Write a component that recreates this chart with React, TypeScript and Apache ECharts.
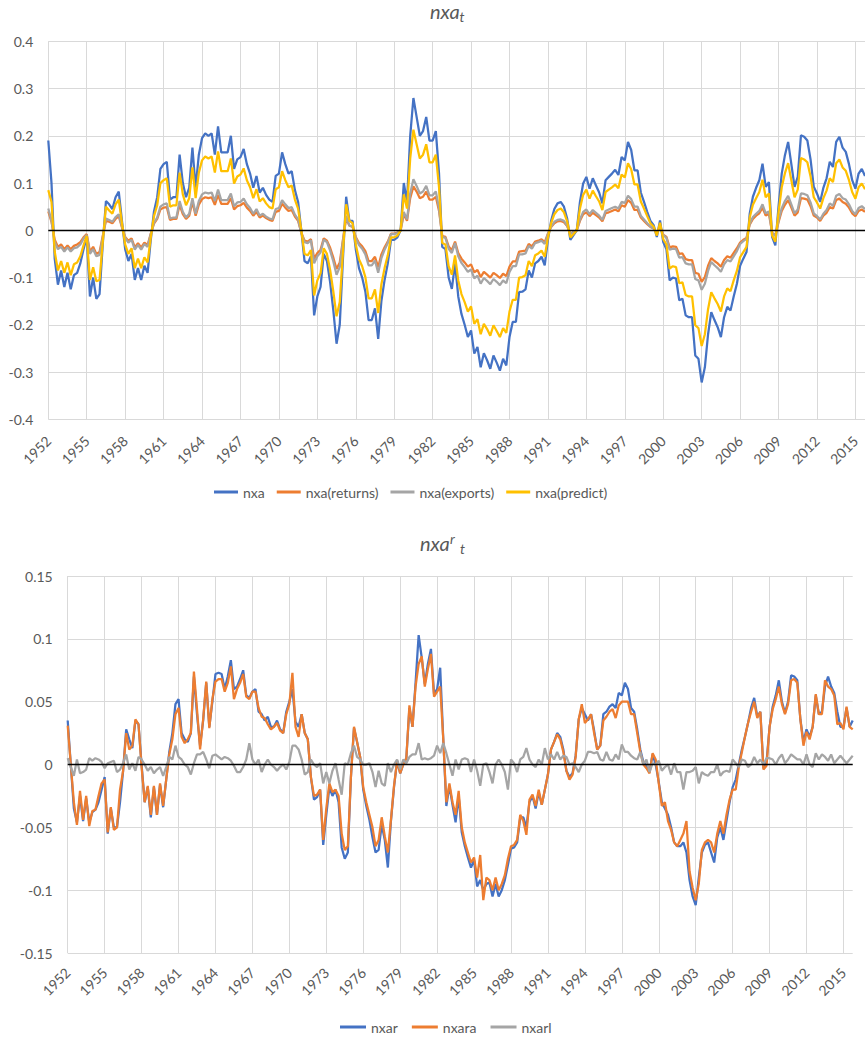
import React, { useEffect, useRef } from "react";
import * as echarts from "echarts";

// quarterly categories 1952Q1 .. 2015Q4
const quarters: string[] = [];
for (let y = 1952; y <= 2015; y++) for (let q = 1; q <= 4; q++) quarters.push(`${y}Q${q}`);

const topSeriesNames = ["nxa", "nxa(returns)", "nxa(exports)", "nxa(predict)"];
const bottomSeriesNames = ["nxar", "nxara", "nxarl"];

const nxa = [
  0.19, 0.10, -0.06, -0.115, -0.085, -0.12, -0.09, -0.125, -0.095, -0.09, -0.07, -0.04, -0.015, -0.14, -0.10, -0.145,
  -0.135, -0.03, 0.062, 0.055, 0.045, 0.07, 0.082, 0.02, -0.04, -0.065, -0.05, -0.105, -0.08, -0.105, -0.075, -0.09,
  -0.02, 0.04, 0.07, 0.13, 0.14, 0.145, 0.065, 0.07, 0.07, 0.16, 0.1, 0.07, 0.09, 0.175, 0.09, 0.16,
  0.195, 0.205, 0.2, 0.205, 0.16, 0.22, 0.165, 0.165, 0.165, 0.2, 0.13, 0.15, 0.155, 0.172, 0.14, 0.12,
  0.09, 0.115, 0.08, 0.09, 0.075, 0.065, 0.06, 0.115, 0.12, 0.165, 0.14, 0.12, 0.125, 0.085, 0.06, 0.0,
  -0.065, -0.07, -0.055, -0.18, -0.14, -0.12, -0.05, -0.065, -0.11, -0.17, -0.24, -0.2, -0.06, 0.071, 0.02, 0.02,
  -0.04, -0.08, -0.1, -0.13, -0.19, -0.19, -0.165, -0.23, -0.15, -0.105, -0.07, -0.02, -0.02, -0.015, 0.0, 0.1,
  0.06, 0.2, 0.28, 0.24, 0.2, 0.21, 0.24, 0.19, 0.19, 0.21, 0.12, -0.035, -0.04, -0.1, -0.124, -0.07,
  -0.14, -0.177, -0.2, -0.226, -0.212, -0.261, -0.247, -0.29, -0.26, -0.275, -0.293, -0.265, -0.28, -0.297, -0.272, -0.286,
  -0.226, -0.194, -0.194, -0.131, -0.13, -0.125, -0.085, -0.1, -0.07, -0.065, -0.056, -0.074, -0.02, 0.02, 0.045, 0.057,
  0.06, 0.05, 0.025, -0.02, -0.01, 0.0, 0.06, 0.099, 0.113, 0.088, 0.11, 0.095, 0.08, 0.057, 0.106, 0.113,
  0.12, 0.128, 0.117, 0.155, 0.148, 0.187, 0.17, 0.127, 0.127, 0.08, 0.06, 0.039, 0.02, 0.011, -0.014, 0.021,
  -0.025, -0.04, -0.106, -0.1, -0.102, -0.148, -0.145, -0.18, -0.184, -0.184, -0.265, -0.272, -0.322, -0.29, -0.22, -0.173,
  -0.19, -0.205, -0.226, -0.184, -0.162, -0.17, -0.14, -0.113, -0.075, -0.06, -0.046, 0.035, 0.071, 0.09, 0.106, 0.141,
  0.092, 0.102, -0.014, -0.032, 0.05, 0.12, 0.159, 0.187, 0.14, 0.092, 0.113, 0.201, 0.198, 0.19, 0.15, 0.092,
  0.078, 0.06, 0.09, 0.11, 0.145, 0.134, 0.187, 0.198, 0.175, 0.166, 0.14, 0.106, 0.088, 0.12, 0.13, 0.115,
];

const nxaReturns = [
  0.04, 0.018, -0.02, -0.035, -0.03, -0.04, -0.032, -0.04, -0.033, -0.03, -0.025, -0.015, -0.008, -0.045, -0.035, -0.05,
  -0.046, -0.012, 0.02, 0.018, 0.015, 0.024, 0.03, 0.006, -0.014, -0.022, -0.017, -0.036, -0.027, -0.036, -0.026, -0.031,
  -0.007, 0.014, 0.024, 0.044, 0.048, 0.049, 0.022, 0.024, 0.024, 0.054, 0.034, 0.024, 0.031, 0.06, 0.031, 0.054,
  0.066, 0.07, 0.068, 0.07, 0.054, 0.075, 0.056, 0.056, 0.056, 0.068, 0.044, 0.051, 0.053, 0.058, 0.048, 0.041,
  0.031, 0.039, 0.027, 0.031, 0.026, 0.022, 0.02, 0.039, 0.041, 0.056, 0.048, 0.041, 0.043, 0.029, 0.02, -0.005,
  -0.022, -0.024, -0.019, -0.06, -0.048, -0.041, -0.017, -0.022, -0.037, -0.058, -0.082, -0.068, -0.02, 0.026, 0.01, 0.007,
  -0.014, -0.027, -0.034, -0.044, -0.065, -0.065, -0.056, -0.078, -0.051, -0.036, -0.024, -0.007, -0.007, -0.005, 0.0, 0.034,
  0.02, 0.068, 0.093, 0.082, 0.068, 0.071, 0.082, 0.065, 0.065, 0.071, 0.041, -0.012, -0.014, -0.034, -0.042, -0.024,
  -0.048, -0.06, -0.068, -0.077, -0.072, -0.089, -0.084, -0.099, -0.088, -0.094, -0.1, -0.09, -0.095, -0.101, -0.092, -0.097,
  -0.077, -0.066, -0.066, -0.045, -0.044, -0.043, -0.029, -0.034, -0.024, -0.022, -0.019, -0.025, -0.007, 0.007, 0.015, 0.019,
  0.02, 0.017, 0.009, -0.007, -0.003, 0.0, 0.02, 0.034, 0.038, 0.03, 0.037, 0.032, 0.027, 0.019, 0.036, 0.038,
  0.041, 0.044, 0.04, 0.053, 0.05, 0.064, 0.058, 0.043, 0.043, 0.027, 0.02, 0.013, 0.007, 0.004, -0.005, 0.007,
  -0.009, -0.014, -0.036, -0.034, -0.035, -0.05, -0.049, -0.061, -0.063, -0.063, -0.09, -0.092, -0.109, -0.099, -0.075, -0.059,
  -0.065, -0.07, -0.077, -0.063, -0.055, -0.058, -0.048, -0.038, -0.026, -0.02, -0.016, 0.012, 0.024, 0.031, 0.036, 0.048,
  0.031, 0.035, -0.005, -0.011, 0.017, 0.041, 0.054, 0.064, 0.048, 0.031, 0.038, 0.068, 0.067, 0.065, 0.051, 0.031,
  0.027, 0.02, 0.031, 0.037, 0.049, 0.046, 0.064, 0.067, 0.06, 0.056, 0.048, 0.036, 0.03, 0.041, 0.044, 0.039,
];

const nxaExports = [
  0.046, 0.02, -0.025, -0.04, -0.035, -0.045, -0.036, -0.045, -0.038, -0.036, -0.03, -0.018, -0.01, -0.05, -0.04, -0.055,
  -0.052, -0.015, 0.025, 0.022, 0.018, 0.028, 0.034, 0.008, -0.016, -0.026, -0.02, -0.041, -0.031, -0.041, -0.029, -0.035,
  -0.008, 0.016, 0.027, 0.05, 0.055, 0.057, 0.025, 0.027, 0.027, 0.062, 0.039, 0.027, 0.035, 0.068, 0.035, 0.062,
  0.076, 0.08, 0.078, 0.08, 0.062, 0.086, 0.064, 0.064, 0.064, 0.078, 0.051, 0.059, 0.06, 0.067, 0.055, 0.047,
  0.035, 0.045, 0.031, 0.035, 0.029, 0.025, 0.023, 0.045, 0.047, 0.064, 0.055, 0.047, 0.049, 0.033, 0.023, -0.005,
  -0.025, -0.027, -0.021, -0.07, -0.055, -0.047, -0.02, -0.025, -0.043, -0.066, -0.094, -0.078, -0.023, 0.03, 0.01, 0.008,
  -0.016, -0.031, -0.039, -0.051, -0.074, -0.074, -0.064, -0.09, -0.059, -0.041, -0.027, -0.008, -0.008, -0.006, 0.0, 0.039,
  0.023, 0.078, 0.108, 0.094, 0.078, 0.082, 0.094, 0.074, 0.074, 0.082, 0.047, -0.014, -0.016, -0.039, -0.048, -0.027,
  -0.055, -0.069, -0.078, -0.088, -0.083, -0.102, -0.096, -0.113, -0.101, -0.107, -0.114, -0.103, -0.109, -0.116, -0.106, -0.112,
  -0.088, -0.076, -0.076, -0.051, -0.051, -0.049, -0.033, -0.039, -0.027, -0.025, -0.022, -0.029, -0.008, 0.008, 0.018, 0.022,
  0.023, 0.02, 0.01, -0.008, -0.004, 0.0, 0.023, 0.039, 0.044, 0.034, 0.043, 0.037, 0.031, 0.022, 0.041, 0.044,
  0.047, 0.05, 0.046, 0.06, 0.058, 0.073, 0.066, 0.05, 0.05, 0.031, 0.023, 0.015, 0.008, 0.004, -0.005, 0.008,
  -0.01, -0.016, -0.041, -0.039, -0.04, -0.058, -0.057, -0.07, -0.072, -0.072, -0.103, -0.106, -0.126, -0.113, -0.086, -0.067,
  -0.074, -0.08, -0.088, -0.072, -0.063, -0.066, -0.055, -0.044, -0.029, -0.023, -0.018, 0.014, 0.028, 0.035, 0.041, 0.055,
  0.036, 0.04, -0.005, -0.012, 0.02, 0.047, 0.062, 0.073, 0.055, 0.036, 0.044, 0.078, 0.077, 0.074, 0.059, 0.036,
  0.03, 0.023, 0.035, 0.043, 0.057, 0.052, 0.073, 0.077, 0.068, 0.065, 0.055, 0.041, 0.034, 0.047, 0.051, 0.045,
];

const nxaPredict = [
  0.085, 0.06, -0.045, -0.085, -0.065, -0.09, -0.068, -0.095, -0.072, -0.068, -0.055, -0.032, -0.012, -0.105, -0.078, -0.108,
  -0.105, -0.025, 0.05, 0.042, 0.035, 0.055, 0.065, 0.015, -0.03, -0.05, -0.038, -0.08, -0.06, -0.08, -0.057, -0.068,
  -0.015, 0.03, 0.053, 0.1, 0.106, 0.11, 0.05, 0.053, 0.053, 0.122, 0.076, 0.053, 0.068, 0.133, 0.068, 0.122,
  0.148, 0.156, 0.152, 0.156, 0.122, 0.167, 0.125, 0.125, 0.125, 0.152, 0.099, 0.114, 0.118, 0.131, 0.106, 0.091,
  0.068, 0.087, 0.061, 0.068, 0.057, 0.049, 0.046, 0.087, 0.091, 0.125, 0.106, 0.091, 0.095, 0.065, 0.046, 0.0,
  -0.05, -0.053, -0.042, -0.138, -0.106, -0.091, -0.038, -0.05, -0.084, -0.13, -0.182, -0.152, -0.046, 0.055, 0.02, 0.015,
  -0.03, -0.061, -0.076, -0.099, -0.144, -0.144, -0.125, -0.175, -0.114, -0.08, -0.053, -0.015, -0.015, -0.011, 0.0, 0.076,
  0.046, 0.152, 0.213, 0.182, 0.152, 0.16, 0.182, 0.144, 0.144, 0.16, 0.091, -0.027, -0.03, -0.076, -0.094, -0.053,
  -0.106, -0.135, -0.152, -0.172, -0.161, -0.198, -0.188, -0.22, -0.198, -0.209, -0.223, -0.201, -0.213, -0.226, -0.207, -0.217,
  -0.172, -0.147, -0.147, -0.1, -0.099, -0.095, -0.065, -0.076, -0.053, -0.049, -0.043, -0.056, -0.015, 0.015, 0.034, 0.043,
  0.046, 0.038, 0.019, -0.015, -0.008, 0.0, 0.046, 0.075, 0.086, 0.067, 0.084, 0.072, 0.061, 0.043, 0.081, 0.086,
  0.091, 0.097, 0.089, 0.118, 0.112, 0.142, 0.129, 0.097, 0.097, 0.061, 0.046, 0.03, 0.015, 0.008, -0.011, 0.016,
  -0.019, -0.03, -0.081, -0.076, -0.078, -0.112, -0.11, -0.137, -0.14, -0.14, -0.201, -0.207, -0.245, -0.22, -0.167, -0.131,
  -0.144, -0.156, -0.172, -0.14, -0.123, -0.129, -0.106, -0.086, -0.057, -0.046, -0.035, 0.027, 0.054, 0.068, 0.081, 0.107,
  0.07, 0.078, -0.011, -0.024, 0.038, 0.091, 0.121, 0.142, 0.106, 0.07, 0.086, 0.153, 0.15, 0.144, 0.114, 0.07,
  0.059, 0.046, 0.068, 0.084, 0.11, 0.102, 0.142, 0.15, 0.133, 0.126, 0.106, 0.081, 0.067, 0.091, 0.099, 0.087,
];

const nxar = [
  0.035, 0.0, -0.035, -0.046, -0.025, -0.045, -0.027, -0.046, -0.038, -0.036, -0.03, -0.02, -0.01, -0.055, -0.035, -0.05,
  -0.05, -0.03, -0.005, 0.028, 0.02, 0.013, 0.035, 0.032, 0.0, -0.03, -0.018, -0.042, -0.018, -0.04, -0.016, -0.034,
  -0.012, 0.01, 0.025, 0.048, 0.052, 0.025, 0.02, 0.018, 0.025, 0.07, 0.04, 0.015, 0.035, 0.065, 0.03, 0.05,
  0.072, 0.073, 0.072, 0.06, 0.07, 0.083, 0.06, 0.062, 0.068, 0.075, 0.055, 0.053, 0.058, 0.06, 0.042, 0.04,
  0.035, 0.038, 0.03, 0.03, 0.035, 0.028, 0.025, 0.042, 0.05, 0.06, 0.034, 0.03, 0.04, 0.025, 0.02, -0.01,
  -0.028, -0.026, -0.02, -0.064, -0.04, -0.018, -0.025, -0.02, -0.03, -0.066, -0.075, -0.07, -0.01, 0.029, 0.018, 0.006,
  -0.02, -0.033, -0.044, -0.058, -0.07, -0.068, -0.048, -0.06, -0.082, -0.045, -0.018, 0.003, -0.007, 0.0, 0.005, 0.045,
  0.03, 0.065, 0.103, 0.085, 0.064, 0.08, 0.092, 0.056, 0.06, 0.077, 0.02, -0.033, -0.017, -0.032, -0.046, -0.025,
  -0.054, -0.065, -0.074, -0.082, -0.076, -0.097, -0.092, -0.1, -0.095, -0.094, -0.105, -0.095, -0.105, -0.1, -0.092, -0.08,
  -0.067, -0.066, -0.062, -0.042, -0.042, -0.05, -0.03, -0.025, -0.035, -0.022, -0.032, -0.02, -0.008, 0.012, 0.018, 0.025,
  0.022, 0.012, -0.005, -0.01, -0.007, 0.007, 0.036, 0.045, 0.04, 0.035, 0.04, 0.027, 0.012, 0.015, 0.04, 0.042,
  0.046, 0.048, 0.045, 0.057, 0.055, 0.065, 0.06, 0.045, 0.042, 0.028, 0.012, 0.002, -0.001, -0.006, 0.008, 0.0,
  -0.014, -0.03, -0.035, -0.04, -0.05, -0.062, -0.065, -0.065, -0.062, -0.07, -0.092, -0.105, -0.112, -0.09, -0.07, -0.064,
  -0.062, -0.07, -0.078, -0.058, -0.05, -0.06, -0.045, -0.03, -0.018, -0.012, 0.0, 0.012, 0.022, 0.033, 0.045, 0.053,
  0.038, 0.042, -0.003, 0.002, 0.03, 0.046, 0.055, 0.067, 0.05, 0.041, 0.05, 0.071, 0.07, 0.067, 0.036, 0.018,
  0.028, 0.022, 0.03, 0.055, 0.04, 0.042, 0.062, 0.07, 0.062, 0.057, 0.042, 0.03, 0.03, 0.045, 0.03, 0.035,
];

const nxara = [
  0.031, 0.0, -0.03, -0.048, -0.021, -0.044, -0.025, -0.049, -0.037, -0.036, -0.025, -0.015, -0.012, -0.054, -0.034, -0.052,
  -0.05, -0.02, -0.005, 0.025, 0.012, 0.015, 0.036, 0.032, -0.002, -0.03, -0.017, -0.04, -0.017, -0.04, -0.015, -0.033,
  -0.012, 0.008, 0.02, 0.04, 0.045, 0.022, 0.017, 0.02, 0.025, 0.074, 0.044, 0.012, 0.036, 0.066, 0.029, 0.052,
  0.066, 0.068, 0.068, 0.058, 0.065, 0.078, 0.052, 0.06, 0.065, 0.072, 0.054, 0.052, 0.058, 0.058, 0.045, 0.038,
  0.037, 0.032, 0.028, 0.03, 0.033, 0.027, 0.025, 0.04, 0.048, 0.073, 0.03, 0.022, 0.04, 0.025, 0.02, -0.01,
  -0.025, -0.024, -0.02, -0.06, -0.035, -0.015, -0.022, -0.02, -0.025, -0.055, -0.068, -0.065, -0.01, 0.03, 0.018, 0.006,
  -0.018, -0.03, -0.04, -0.05, -0.065, -0.06, -0.042, -0.057, -0.07, -0.044, -0.017, 0.003, -0.007, 0.0, 0.005, 0.047,
  0.03, 0.062, 0.08, 0.086, 0.062, 0.076, 0.088, 0.054, 0.058, 0.062, 0.02, -0.03, -0.015, -0.03, -0.04, -0.021,
  -0.05, -0.062, -0.07, -0.078, -0.074, -0.09, -0.072, -0.108, -0.09, -0.092, -0.1, -0.09, -0.1, -0.095, -0.088, -0.075,
  -0.065, -0.064, -0.06, -0.04, -0.045, -0.056, -0.028, -0.024, -0.033, -0.02, -0.032, -0.02, -0.008, 0.012, 0.018, 0.024,
  0.02, 0.01, -0.005, -0.012, -0.008, 0.006, 0.036, 0.048, 0.033, 0.036, 0.04, 0.025, 0.012, 0.015, 0.035, 0.038,
  0.042, 0.044, 0.037, 0.047, 0.05, 0.05, 0.05, 0.04, 0.04, 0.025, 0.01, 0.0, -0.003, -0.007, 0.009, 0.004,
  -0.015, -0.033, -0.03, -0.045, -0.052, -0.062, -0.065, -0.06, -0.055, -0.045, -0.085, -0.098, -0.108, -0.095, -0.068, -0.062,
  -0.06, -0.062, -0.07, -0.055, -0.045, -0.055, -0.04, -0.028, -0.02, -0.02, -0.002, 0.01, 0.022, 0.033, 0.042, 0.05,
  0.037, 0.042, -0.004, -0.001, 0.03, 0.044, 0.052, 0.062, 0.048, 0.04, 0.048, 0.067, 0.068, 0.065, 0.036, 0.015,
  0.026, 0.02, 0.03, 0.056, 0.04, 0.04, 0.067, 0.062, 0.06, 0.055, 0.032, 0.033, 0.028, 0.046, 0.03, 0.028,
];

const nxarl = [
  0.005, -0.002, -0.009, 0.004, -0.007, -0.006, -0.004, 0.005, 0.003, 0.005, 0.004, 0.002, -0.003, 0.001, 0.002, 0.003,
  -0.006, -0.004, 0.001, 0.008, -0.004, 0.001, -0.005, 0.006, 0.004, 0.0, -0.005, -0.002, -0.007, -0.004, -0.002, -0.009,
  -0.002, 0.006, 0.004, 0.015, 0.006, 0.004, 0.0, -0.002, -0.008, 0.001, 0.008, 0.008, 0.01, 0.004, -0.003, 0.007,
  0.008, 0.006, 0.004, 0.006, 0.005, 0.003, -0.001, -0.006, -0.006, -0.002, 0.004, 0.017, 0.004, 0.0, 0.004, -0.006,
  0.0, 0.004, 0.0, -0.002, -0.005, -0.002, 0.0, -0.004, 0.002, 0.015, 0.015, 0.012, 0.004, -0.008, -0.006, 0.004,
  0.0, -0.002, 0.001, -0.015, -0.006, -0.015, -0.005, 0.001, -0.012, -0.024, 0.001, 0.0, 0.009, 0.015, 0.006, 0.004,
  0.0, 0.0, 0.001, -0.006, -0.018, -0.005, -0.015, -0.017, 0.001, -0.006, 0.0, 0.004, -0.004, 0.004, 0.001, 0.006,
  0.008, 0.008, 0.017, 0.004, 0.005, 0.004, 0.005, 0.007, 0.015, 0.009, 0.017, 0.009, 0.0, -0.009, 0.004, -0.004,
  0.004, 0.005, 0.004, -0.006, 0.004, -0.005, -0.017, 0.0, 0.001, -0.006, -0.015, 0.0, 0.004, 0.0, -0.006, -0.02,
  0.004, 0.001, -0.006, 0.004, 0.006, 0.013, 0.004, 0.0, -0.002, 0.004, 0.0, 0.013, 0.004, 0.008, 0.004, 0.01,
  0.004, 0.007, 0.006, 0.0, 0.001, -0.002, -0.006, 0.0, 0.003, 0.01, 0.01, 0.009, 0.01, 0.004, 0.003, 0.01,
  0.004, 0.003, 0.008, 0.004, 0.016, 0.01, 0.01, 0.007, 0.005, 0.004, 0.01, 0.0, 0.004, -0.006, 0.001, 0.0,
  0.003, -0.005, -0.002, 0.0, -0.008, 0.001, -0.006, -0.006, -0.02, -0.006, -0.006, -0.005, -0.002, -0.015, -0.006, -0.008,
  -0.009, -0.006, -0.006, 0.0, -0.009, -0.006, -0.005, -0.006, 0.004, 0.001, -0.002, 0.004, 0.003, -0.002, 0.0, 0.006,
  0.001, 0.004, 0.0, 0.005, 0.005, 0.004, 0.0, 0.005, 0.008, 0.001, 0.004, 0.008, 0.006, 0.004, 0.004, 0.0,
  0.008, 0.0, -0.002, 0.009, 0.004, 0.008, 0.006, 0.003, 0.008, 0.001, 0.004, 0.007, 0.004, 0.001, 0.004, 0.007,
];

const FONT = "Lato, 'Open Sans', sans-serif";
const TEXT = "#595959";
const GRIDC = "#d9d9d9";
const BLUE = "#4472C4";
const ORANGE = "#ED7D31";
const GRAY = "#A5A5A5";
const YELLOW = "#FFC000";

function xAxis(gridIndex: number, margin: number) {
  return {
    type: "category",
    gridIndex,
    data: quarters,
    boundaryGap: false,
    axisLine: { show: false },
    axisTick: { show: false },
    axisLabel: {
      interval: 11,
      rotate: 45,
      margin,
      color: TEXT,
      fontSize: 14,
      fontFamily: FONT,
      formatter: (v: string) => v.slice(0, 4),
    },
    splitLine: { show: true, interval: 11, lineStyle: { color: GRIDC, width: 1 } },
  };
}

function yAxis(gridIndex: number, min: number, max: number, interval: number) {
  return {
    type: "value",
    gridIndex,
    min,
    max,
    interval,
    axisLine: { show: false },
    axisTick: { show: false },
    axisLabel: { color: TEXT, fontSize: 14, fontFamily: FONT, margin: 15 },
    splitLine: { show: true, lineStyle: { color: GRIDC, width: 1 } },
  };
}

const zeroLine = {
  silent: true,
  symbol: ["none", "none"],
  label: { show: false },
  lineStyle: { color: "#000", width: 1.3, type: "solid" },
  data: [{ yAxis: 0 }],
};

function line(name: string, data: number[], color: string, idx: number, withZero = false) {
  const s: any = {
    name,
    type: "line",
    xAxisIndex: idx,
    yAxisIndex: idx,
    data,
    symbol: "none",
    showSymbol: false,
    color,
    itemStyle: { color },
    lineStyle: { color, width: 2.25 },
    emphasis: { disabled: true },
  };
  if (withZero) s.markLine = zeroLine;
  return s;
}

function titleText(text: string, x: number, y: number, size: number) {
  return {
    type: "text",
    x,
    y,
    style: {
      text,
      font: `italic ${size}px ${FONT}`,
      fill: TEXT,
      verticalAlign: "middle",
      textVerticalAlign: "middle",
    },
  };
}

export default function App() {
  const ref = useRef<HTMLDivElement>(null);
  useEffect(() => {
    if (!ref.current) return;
    const chart = echarts.init(ref.current, undefined, { renderer: "svg" });
    const legendText = { color: TEXT, fontSize: 14, fontFamily: FONT };
    chart.setOption({
      animation: false,
      backgroundColor: "#fff",
      grid: [
        { left: 48.3, top: 41.3, width: 822.4, height: 378 },
        { left: 67.7, top: 576, width: 785, height: 377 },
      ],
      xAxis: [xAxis(0, 19), xAxis(1, 17)],
      yAxis: [yAxis(0, -0.4, 0.4, 0.1), yAxis(1, -0.15, 0.15, 0.05)],
      legend: [
        {
          data: topSeriesNames,
          left: 209,
          top: 480,
          icon: "rect",
          itemWidth: 24,
          itemHeight: 3,
          itemGap: 12,
          textStyle: legendText,
          selectedMode: false,
        },
        {
          data: bottomSeriesNames,
          left: 335,
          top: 1015,
          icon: "rect",
          itemWidth: 26,
          itemHeight: 3,
          itemGap: 14,
          textStyle: legendText,
          selectedMode: false,
        },
      ],
      graphic: [
        titleText("nxa", 430, 10.5, 20),
        titleText("t", 459.5, 16.3, 14),
        titleText("nxa", 420, 543, 20),
        titleText("r", 450, 538.9, 14),
        titleText("t", 460, 548.8, 14),
      ],
      series: [
        line("nxa", nxa, BLUE, 0, true),
        line("nxa(returns)", nxaReturns, ORANGE, 0),
        line("nxa(exports)", nxaExports, GRAY, 0),
        line("nxa(predict)", nxaPredict, YELLOW, 0),
        line("nxar", nxar, BLUE, 1, true),
        line("nxara", nxara, ORANGE, 1),
        line("nxarl", nxarl, GRAY, 1),
      ],
    });
    return () => chart.dispose();
  }, []);
  return (
    <div style={{ position: "absolute", left: 0, top: 0, width: 865, height: 1038, overflow: "hidden", background: "#fff" }}>
      <div ref={ref} style={{ width: 865, height: 1038 }} />
    </div>
  );
}
